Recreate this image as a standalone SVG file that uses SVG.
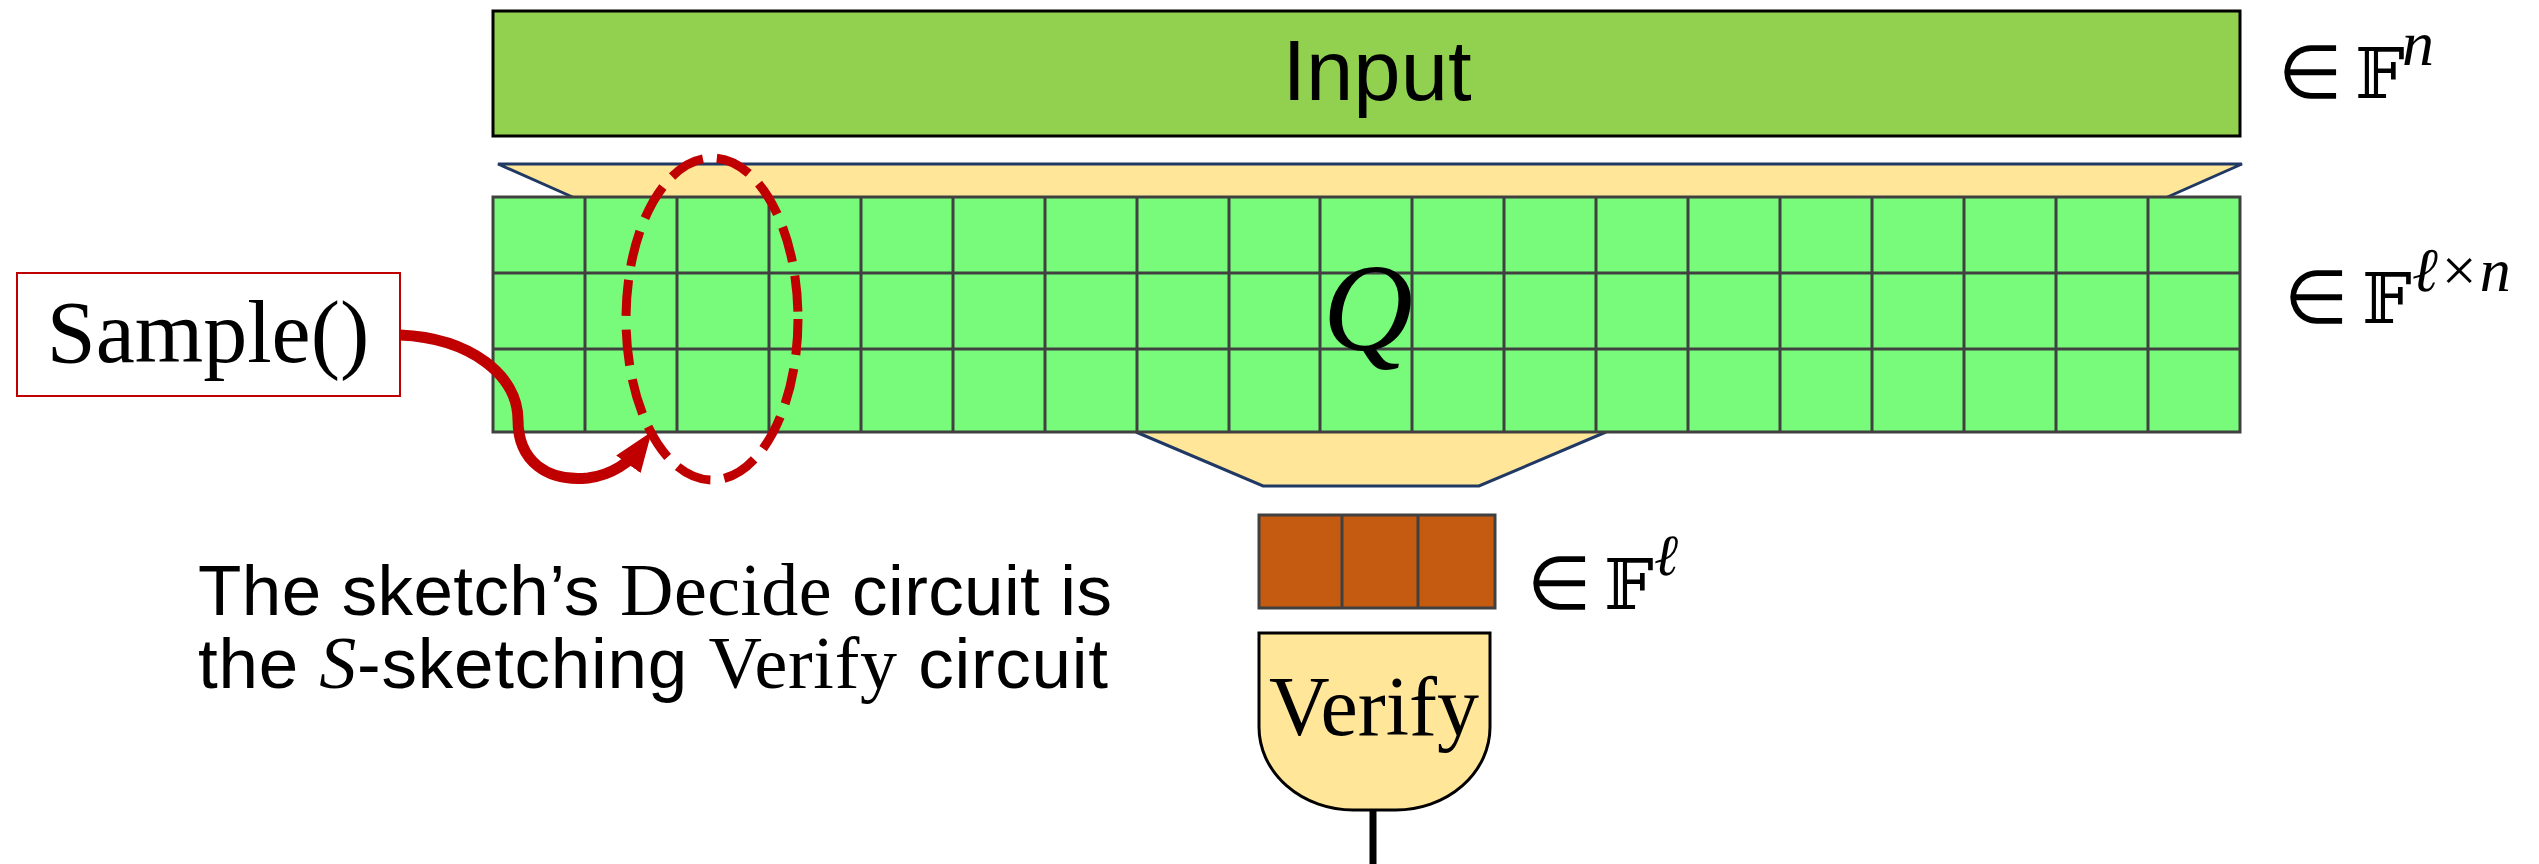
<svg xmlns="http://www.w3.org/2000/svg" width="2539" height="864" viewBox="0 0 2539 864">
<defs>
<style>
.sans{font-family:"Liberation Sans",Arial,sans-serif;fill:#000}
.serif{font-family:"Liberation Serif","Times New Roman",serif;fill:#000}
.math{font-family:"DejaVu Serif","Liberation Serif",serif;fill:#000}
.elem{font-family:"DejaVu Sans","Liberation Sans",sans-serif;fill:#000;font-size:74px}
.sup{font-family:"Liberation Serif","Times New Roman",serif;font-style:italic;fill:#000}
.cell{stroke:#404040;stroke-width:3}
.tan{fill:#FFE699}
.navy{fill:none;stroke:#1F3864;stroke-width:3;stroke-linejoin:miter}
</style>
<marker id="arr" markerUnits="userSpaceOnUse" markerWidth="40" markerHeight="40" refX="20" refY="15" orient="auto" viewBox="0 0 40 30">
<path d="M0,0 L40,15 L0,30 z" fill="#C00000"/>
</marker>
</defs>
<rect width="2539" height="864" fill="#fff"/>

<g id="input">
<rect x="493" y="11" width="1747" height="125" fill="#92D050" stroke="#000" stroke-width="3"/>
<text class="sans" x="1377" y="100" font-size="85" text-anchor="middle">Input</text>
</g>
<g id="label-input">
<text class="elem" x="2278" y="98">∈</text>
<text class="math" x="2355" y="98" font-size="70">𝔽</text>
<text class="sup" x="2402" y="65" font-size="64">n</text>
</g>

<g id="top-funnel">
<polygon class="tan" points="498,164 2242,164 2163,199 577,199"/>
<polyline class="navy" points="577,199 498,164 2242,164 2163,199"/>
</g>
<g id="bottom-funnel">
<polygon class="tan" points="1136,430 1606,430 1479,486 1263,486"/>
<polyline class="navy" points="1136,432 1263,486 1479,486 1606,432"/>
</g>

<g id="matrix-Q">
<rect x="493" y="197" width="1747" height="235" fill="#78FA7A" class="cell"/>
<g class="cell">
<line x1="493" y1="273" x2="2240" y2="273"/>
<line x1="493" y1="349" x2="2240" y2="349"/>
<line x1="585" y1="197" x2="585" y2="432"/>
<line x1="677" y1="197" x2="677" y2="432"/>
<line x1="769" y1="197" x2="769" y2="432"/>
<line x1="861" y1="197" x2="861" y2="432"/>
<line x1="953" y1="197" x2="953" y2="432"/>
<line x1="1045" y1="197" x2="1045" y2="432"/>
<line x1="1137" y1="197" x2="1137" y2="432"/>
<line x1="1229" y1="197" x2="1229" y2="432"/>
<line x1="1320" y1="197" x2="1320" y2="432"/>
<line x1="1412" y1="197" x2="1412" y2="432"/>
<line x1="1504" y1="197" x2="1504" y2="432"/>
<line x1="1596" y1="197" x2="1596" y2="432"/>
<line x1="1688" y1="197" x2="1688" y2="432"/>
<line x1="1780" y1="197" x2="1780" y2="432"/>
<line x1="1872" y1="197" x2="1872" y2="432"/>
<line x1="1964" y1="197" x2="1964" y2="432"/>
<line x1="2056" y1="197" x2="2056" y2="432"/>
<line x1="2148" y1="197" x2="2148" y2="432"/>
</g>
<text class="serif" x="1368" y="350" font-size="125" font-style="italic" text-anchor="middle">Q</text>
</g>
<g id="label-Q">
<text class="elem" x="2284" y="323">∈</text>
<text class="math" x="2362" y="323" font-size="70">𝔽</text>
<text class="sup" x="2412" y="291" font-size="62">ℓ×n</text>
</g>

<g id="sample-selection">
<ellipse cx="712" cy="319" rx="86" ry="161" fill="none" stroke="#C00000" stroke-width="9" stroke-dasharray="36 14"/>
</g>

<g id="sample">
<rect x="17" y="273" width="383" height="123" fill="#fff" stroke="#C00000" stroke-width="2"/>
<text class="serif" x="208" y="362" font-size="88" text-anchor="middle">Sample()</text>
</g>

<g id="connectors">
<path d="M400,335 C470,338 518,375 518,420 C518,462 548,482 588,478 C612,475 630,462 640,448" fill="none" stroke="#C00000" stroke-width="11" marker-end="url(#arr)"/>
<line x1="1373" y1="808" x2="1373" y2="864" stroke="#000" stroke-width="7"/>
</g>

<g id="vector">
<rect x="1259" y="515" width="236" height="93" fill="#C55A11" stroke="#404040" stroke-width="3"/>
<line x1="1342" y1="515" x2="1342" y2="608" stroke="#404040" stroke-width="3"/>
<line x1="1418" y1="515" x2="1418" y2="608" stroke="#404040" stroke-width="3"/>
</g>
<g id="label-vector">
<text class="elem" x="1527" y="609">∈</text>
<text class="math" x="1604" y="609" font-size="70">𝔽</text>
<text class="sup" x="1654" y="575" font-size="58">ℓ</text>
</g>

<g id="verify">
<path d="M1259,633 L1490,633 L1490,727 A94,83 0 0 1 1396,810 L1353,810 A94,83 0 0 1 1259,727 Z" fill="#FFE699" stroke="#000" stroke-width="3"/>
<text class="serif" x="1374" y="735" font-size="84" text-anchor="middle">Verify</text>
</g>

<g id="caption">
<text class="sans" x="198" y="615" font-size="71" textLength="914" lengthAdjust="spacing">The sketch’s <tspan class="serif" font-size="74">Decide</tspan> circuit is</text>
<text class="sans" x="198" y="688" font-size="71" textLength="910" lengthAdjust="spacing">the <tspan class="serif" font-style="italic" font-size="74">S</tspan>-sketching <tspan class="serif" font-size="74">Verify</tspan> circuit</text>
</g>
</svg>
